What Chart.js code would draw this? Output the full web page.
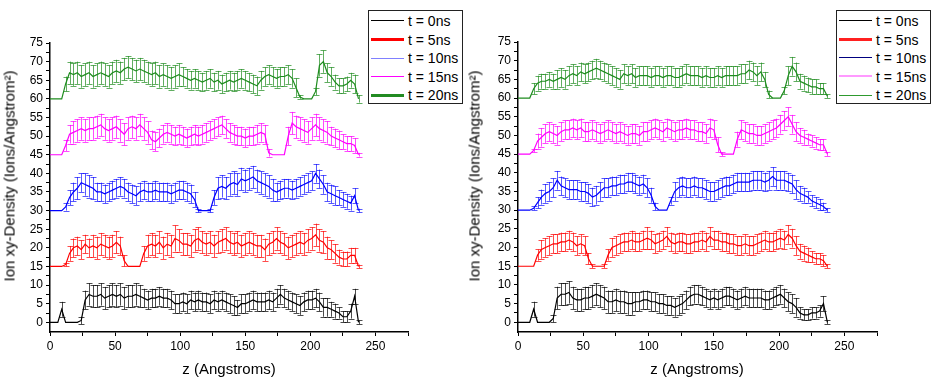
<!DOCTYPE html>
<html><head><meta charset="utf-8">
<script src="https://cdn.jsdelivr.net/npm/chart.js@4.4.1/dist/chart.umd.min.js"></script>
<style>
html,body{margin:0;padding:0;background:#fff;}
#wrap{position:relative;width:934px;height:382px;overflow:hidden;font-family:"Liberation Sans",Arial,sans-serif;color:#000;}
canvas{position:absolute;top:0;}
.ytitle{position:absolute;white-space:nowrap;font-size:15px;font-weight:normal;transform:translate(-50%,-50%) rotate(-90deg);}
.xtitle{position:absolute;white-space:nowrap;font-size:15px;transform:translate(-50%,-50%);}
.legend{position:absolute;top:10px;width:95px;height:94px;border:1px solid #222;box-sizing:border-box;background:#fff;}
.row{position:absolute;left:0;width:100%;height:18px;font-size:14px;line-height:18px;white-space:nowrap;}
.sw{position:absolute;left:2px;width:33px;top:50%;}
.lt{position:absolute;left:39px;top:0;}
</style></head>
<body><div id="wrap">
<canvas id="c1" width="466" height="382" style="left:0"></canvas>
<canvas id="c2" width="468" height="382" style="left:466px"></canvas>
<div class="ytitle" style="left:9px;top:176px">Ion xy-Density (Ions/Angstrom²)</div>
<div class="ytitle" style="left:474px;top:176px">Ion xy-Density (Ions/Angstrom²)</div>
<div class="xtitle" style="left:229px;top:368px">z (Angstroms)</div>
<div class="xtitle" style="left:697px;top:368px">z (Angstroms)</div>
<div class="legend" id="lg1" style="left:368px"></div>
<div class="legend" id="lg2" style="left:836px"></div>
</div>
<script>
const zValues = [0,3,6,9,12,15,18,21,24,27,30,33,36,39,42,45,48,51,54,57,60,63,66,69,72,75,78,81,84,87,90,93,96,99,102,105,108,111,114,117,120,123,126,129,132,135,138,141,144,147,150,153,156,159,162,165,168,171,174,177,180,183,186,189,192,195,198,201,204,207,210,213,216,219,222,225,228,231,234,237];

const seriesLabels = ['t = 0ns','t = 5ns','t = 10ns','t = 15ns','t = 20ns'];

const xTicks = [0,25,50,75,100,125,150,175,200,225,250,275];
const xTickLabels = [0,50,100,150,200,250];
const yTicks = [0,2.5,5,7.5,10,12.5,15,17.5,20,22.5,25,27.5,30,32.5,35,37.5,40,42.5,45,47.5,50,52.5,55,57.5,60,62.5,65,67.5,70,72.5,75];
const yTickLabels = [0,5,10,15,20,25,30,35,40,45,50,55,60,65,70,75];

// ---- left panel ----
const left_t0 = [0,0,0,3.5,0,0,0,0,0.5,6, 7.5,7,7,7.5,6.5,7,7.5,7,7.5,6.5, 7,7,7.5,7,6.5,6,6.5,6.5,7,6.5, 6.5,6,5,5,5.5,5,6,5.5,6,5.5, 5.5,5,6,5.5,6,5.5,5,4.5,4,5, 5,5.5,6,5.5,5.5,5.5,6,5.5,6.5,7.5, 6.5,6,5.5,5,4.5,5.5,6,6,6.5,5.5, 4,4,3.5,3,2.5,1.5,1.5,3,7,0];
const left_t5 = [15,15,15,15,15.5,18.5,20,20.5,19.5,21, 20,20.5,20,21,20.5,20,20.5,21.5,20.5,16.5, 15,15,15,15,18.5,20.5,21,20.5,21.5,20, 21,20.5,22.5,22,21,21,20.5,22,22.5,21.5, 21,21.5,20.5,21.5,22,22.5,21.5,21,21.5,20.5, 21,21.5,21,20.5,20.5,19.5,21,21.5,22.5,21.5, 21,20,20.5,21,21.5,21,22,22.5,23.5,22, 21.5,20,19.5,18.5,17.5,17,17,18,18,15];
const left_t10 = [30,30,30,30,31,33.5,35,36,37.5,37, 36.5,36,35,35,34.5,35,35.5,36,36.5,36, 35,34.5,34,35,35.5,35,35,35.5,35,35, 35,34.5,35,35.5,35.5,35,34.5,33,30,30, 30,30,33.5,36,36.5,36,37,37.5,37,38.5, 38,38.5,39,38,37.5,37,36.5,35.5,35,35.5, 36,36,35.5,36,36.5,37,37.5,38,40,38.5, 37,35,34.5,34,33.5,33,32.5,32,34,30];
const left_t15 = [45,45,45,45,47.5,50.5,51,51.5,52,51.5, 52,52,52.5,53,52,51.5,52,52.5,51.5,50.5, 52,52.5,52,53,52,51,49,48.5,49.5,50.5, 51,50.5,50,50.5,50,49.5,50,50.5,50,50.5, 51,51.5,52,52.5,53,52,51,50.5,50,50, 49.5,50,50,50.5,51,50.5,45.5,45,45,45, 45,50,53.5,52.5,52,51.5,51,52,53,52, 51.5,51,50,49.5,49,48.5,48,48,47.5,45];
const left_t20 = [60,60,60,60,64,67,66.5,67,66,66.5, 67,66,66.5,67,66.5,66,67,67.5,67,68, 68.5,68,67.5,68,67.5,67,66.5,67,66,66.5, 66,65.5,66,66.5,66,65.5,65,65.5,65,64.5, 65,65.5,64.5,65,64,64.5,65,64.5,65,65.5, 65,64.5,64,63.5,65,66,66.5,66,65.5,66, 66,66.5,65.5,63,60.5,60,60,60,62,69, 70,67,66,64.5,63.5,63.5,64,65,64,60];

const left_e0 = [0,0,0,2,0,0,0,0,1,2.5, 3,3,3,3,3,3,3,3,3,3, 3,3,3,3,2.5,2.5,2.5,2.5,2.5,2.5, 2.5,2.5,2.5,2.5,2.5,2.5,2.5,2.5,2.5,2.5, 2.5,2.5,2.5,2.5,2.5,2.5,2.5,2.5,2,2.5, 2.5,2.5,2.5,2.5,2.5,2.5,2.5,2.5,2.5,2.5, 2.5,2.5,2.5,2.5,2.5,2.5,2.5,2.5,2.5,2.5, 2.5,2.5,2,2,1.5,1.5,1.5,2,2,0.5];
const left_e5 = [0,0,0,0,0.5,2,2.5,2.5,2.5,2.5, 2.5,3,3,3,3,3,3,3,2.5,1.5, 0,0,0,0,2,3,3,3,3,3, 3,3,3.5,3,3,3,3,3,3,3, 3,3,3,3,3,3,3,3,3,3, 3,3,3,3,3,3,3,3,3,3, 3,3,3,3,3,3,3,3,3,3, 3,3,2.5,2.5,2,2,2,2,2,0.5];
const left_e10 = [0,0,0,0,1,2,2.5,3,2.5,3, 3,3,2.5,2.5,2.5,2.5,2.5,2.5,2.5,2.5, 2.5,2.5,2.5,2.5,2.5,2.5,2.5,2.5,2.5,2.5, 2.5,2.5,2.5,2.5,2.5,2.5,2.5,2,0.5,0, 0,0.5,2,3,3,3,3,3,3,3, 3,3,3,3,3,3,3,3,2.5,2.5, 2.5,2.5,2.5,2.5,2.5,2.5,2.5,2.5,2.5,2.5, 2.5,2.5,2.5,2.5,2,2,2,2,2,0.5];
const left_e15 = [0,0,0,0,1.5,2.5,3,3,3,3, 3,3,3,3,3,3,3,3,3,3, 3,3,3,3,3,3,2.5,2.5,2.5,2.5, 2.5,2.5,2.5,2.5,2.5,2.5,2.5,2.5,2.5,2.5, 2.5,2.5,2.5,2.5,2.5,2.5,2.5,2.5,2.5,2.5, 2.5,2.5,2.5,2.5,2.5,2.5,1,0,0,0, 0,2.5,3,3,3,3,3,3,3,3, 3,3,2.5,2.5,2.5,2,2,2,2,0.5];
const left_e20 = [0,0,0,0,2,3,3,3,3,3, 3,3,3,3,3,3,3,3,3,3, 3,3,3,3,3,3,3,3,3,3, 3,3,3,3,2.5,2.5,2.5,2.5,2.5,2.5, 2.5,2.5,2.5,2.5,2.5,2.5,2.5,2.5,2.5,2.5, 2.5,2.5,2.5,2.5,2.5,2.5,2.5,2.5,2.5,2.5, 2.5,2.5,2.5,2.5,0.5,0,0,0,1,3, 3,2.5,2.5,2,2,2,2,2,2.5,1];

// ---- right panel ----
const right_t0 = [0,0,0,0,3.5,0,0,0,0,1, 6.5,7.5,7.5,8,6.5,6,6,6.5,6.5,7, 7.5,7,6.5,5.5,5.5,6,5.5,5.5,5,5, 5.5,5.5,6,6,5.5,5.5,5,5,4.5,4.5, 4,4.5,5,6,7,7.5,7.5,7,6.5,6, 6.5,6,6.5,7,7,6.5,6,6.5,7,6.5, 6.5,6.5,6.5,6,6,6.5,7,7.5,6.5,5.5, 5,4,2.5,2,2,2.5,2.5,3,5,0];
const right_t5 = [15,15,15,15,15,18,19.5,20,20.5,21, 21,21.5,21.5,22,21.5,20.5,21,20.5,17,15, 15,15,15,18,20,20.5,21,21.5,21.5,22, 21.5,21.5,22,22.5,22,21,21.5,22,23,21.5, 21,21.5,21.5,21,21,21.5,21.5,22,21.5,23, 22,22,21.5,21.5,21,21,20.5,20.5,21,20.5, 20.5,21,21.5,22,21.5,21.5,22,22.5,22,23.5, 22.5,20.5,19,18.5,18,17.5,17,17,16.5,15];
const right_t10 = [30,30,30,30,30.5,32,33.5,34.5,35,36, 38,36.5,36,35.5,35.5,35.5,35,35,34.5,33.5, 34,35,36,36,36.5,36.5,37,37,37.5,37.5, 37,36.5,37,36,34,31,30,30,30,32.5, 35,36,36.5,36,36,36.5,36,36,35.5,35, 35,35.5,36,36.5,36.5,37,37.5,37.5,37.5,37.5, 38,38,38,37.5,38,39,38,38,38,37.5, 37,35.5,34.5,34,33.5,32.5,32,31.5,31,30];
const right_t15 = [45,45,45,45,46,48.5,49.5,50.5,51,50.5, 50,51,51.5,51.5,52,51.5,52,51,51,51.5, 51,50.5,51,51.5,51,50.5,51,50.5,50,50.5, 50.5,50,51,51,51.5,52,51.5,51,52,51.5, 51,51.5,51.5,52,51.5,51.5,51,51,50.5,52, 51.5,47.5,45,45,45,45,49,51.5,51,50.5, 50.5,50,50,50.5,51,51.5,52,53,54,55, 53,51,50,49.5,49,48.5,48,47.5,47.5,45];
const right_t20 = [60,60,60,60,62.5,64,64.5,64.5,65,64.5, 65,65.5,65,66,66.5,66,67,66.5,67,67.5, 68,67.5,67,66.5,66,65.5,65,66.5,66,66.5, 65.5,66,66,66,65.5,66,66,65.5,66,66, 65.5,65.5,66,66.5,66,66,66,65.5,66,65.5, 65.5,66,65.5,66,66,66,66,66.5,66.5,67.5, 67,66,67,65,61,60,60,60,62,66, 68.5,67,64.5,64,63.5,63,63,62.5,62.5,60.5];

const right_e0 = [0,0,0,0,2,0,0,0,0,1, 3,3,3,3,3,3,3,3,3,3, 3,3,3,3,3,3,3,3,3,3, 2.5,2.5,2.5,2.5,2.5,2.5,2.5,2.5,2.5,2.5, 2.5,2.5,2.5,2.5,2.5,2.5,2.5,2.5,2.5,2.5, 2.5,2.5,2.5,2.5,2.5,2.5,2.5,2.5,2.5,2.5, 2.5,2.5,2.5,2.5,2.5,2.5,2.5,2.5,2.5,2.5, 2.5,2.5,1.5,1.5,1.5,1.5,1.5,1.5,2,0.5];
const right_e5 = [0,0,0,0,0,1.5,2.5,2.5,2.5,2.5, 2.5,2.5,2.5,2.5,2.5,2.5,2.5,2.5,1.5,0.5, 0,0,0.5,1.5,2.5,2.5,2.5,2.5,2.5,2.5, 2.5,2.5,2.5,3,2.5,2.5,2.5,2.5,2.5,2.5, 2.5,2.5,2.5,2.5,2.5,2.5,2.5,2.5,2.5,2.5, 2.5,2.5,2.5,2.5,2.5,2.5,2.5,2.5,2.5,2.5, 2.5,2.5,2.5,2.5,2.5,2.5,2.5,2.5,2.5,2.5, 2.5,2.5,2,2,2,1.5,1.5,1.5,1.5,0.5];
const right_e10 = [0,0,0,0,0.5,1.5,2,2.5,2.5,2.5, 2.5,2.5,2.5,2.5,2.5,2.5,2.5,2.5,2.5,2.5, 2.5,2.5,2.5,2.5,2.5,2.5,2.5,2.5,2.5,2.5, 2.5,2.5,2.5,2.5,2,1,0,0,0,1, 2.5,2.5,2.5,2.5,2.5,2.5,2.5,2.5,2.5,2.5, 2.5,2.5,2.5,2.5,2.5,2.5,2.5,2.5,2.5,2.5, 2.5,2.5,2.5,2.5,2.5,2.5,2.5,2.5,2.5,2.5, 2.5,2.5,2,2,1.5,1.5,1.5,1.5,1,0.5];
const right_e15 = [0,0,0,0,0.5,2,2.5,2.5,2.5,2.5, 2.5,2.5,2.5,2.5,2.5,2.5,2.5,2.5,2.5,2.5, 2.5,2.5,2.5,2.5,2.5,2.5,2.5,2.5,2.5,2.5, 2.5,2.5,2.5,2.5,2.5,2.5,2.5,2.5,2.5,2.5, 2.5,2.5,2.5,2.5,2.5,2.5,2.5,2.5,2.5,2.5, 2.5,2,0.5,0,0,0,2,2.5,2.5,2.5, 2.5,2.5,2.5,2.5,2.5,2.5,2.5,2.5,2.5,2.5, 2.5,2.5,2,2,1.5,1.5,1.5,1.5,1.5,0.5];
const right_e20 = [0,0,0,0,1.5,2,2,2,2,2, 2.5,2.5,2.5,2.5,2.5,2.5,2.5,2.5,2.5,2.5, 2.5,2.5,2.5,2.5,2.5,2.5,2.5,2.5,2.5,2.5, 2.5,2.5,2.5,2.5,2.5,2.5,2.5,2.5,2.5,2.5, 2.5,2.5,2.5,2.5,2.5,2.5,2.5,2.5,2.5,2.5, 2.5,2.5,2.5,2.5,2.5,2.5,2.5,2.5,2.5,2.5, 2.5,2.5,2.5,2,1,0,0,0,1,2.5, 2.5,2.5,2,2,2,2,2,1.5,1.5,0.5];

const lineColors = ['#000000','#ff0000','#0000ff','#ff00ff','#1e8c1e'];
const errColors = ['rgba(0,0,0,0.7)','rgba(255,0,0,0.7)','rgba(0,0,255,0.65)','rgba(255,0,255,0.7)','rgba(30,140,30,0.7)'];

// legend sample styles (colour, width) for each panel
const legendLeft = [['#000000',1.5],['#ff0000',3],['#8080ff',1],['#ff00ff',1.5],['#228b22',3]];
const legendRight = [['#000000',1.5],['#ff2020',3],['#000080',1.5],['#ff99ff',2.5],['#2e9a2e',1]];

Chart.defaults.font.family = '"Liberation Sans", Arial, sans-serif';
Chart.defaults.font.size = 12;
Chart.defaults.color = '#000';

const errorBarPlugin = {
  id: 'errorBars',
  beforeDatasetsDraw(chart) {
    const ctx = chart.ctx, xs = chart.scales.x, ys = chart.scales.y;
    ctx.save();
    ctx.lineWidth = 1;
    chart.data.datasets.forEach((ds) => {
      const errs = ds.errors;
      ctx.strokeStyle = ds.errorColor;
      ctx.beginPath();
      ds.data.forEach((p, j) => {
        const e = errs[j];
        if (!e) return;
        const x = Math.round(xs.getPixelForValue(p.x)) + 0.5;
        const y1 = ys.getPixelForValue(p.y - e), y2 = ys.getPixelForValue(p.y + e);
        ctx.moveTo(x, y1); ctx.lineTo(x, y2);
        ctx.moveTo(x - 3, Math.round(y1) + 0.5); ctx.lineTo(x + 3, Math.round(y1) + 0.5);
        ctx.moveTo(x - 3, Math.round(y2) + 0.5); ctx.lineTo(x + 3, Math.round(y2) + 0.5);
      });
      ctx.stroke();
    });
    ctx.restore();
  }
};

function makeChart(id, vals, errs, yWidth, pad) {
  const datasets = vals.map((v, i) => ({
    label: seriesLabels[i],
    data: zValues.map((z, j) => ({x: z, y: v[j]})),
    errors: errs[i],
    errorColor: errColors[i],
    borderColor: lineColors[i],
    borderWidth: 1.2,
    pointRadius: 0,
    tension: 0,
    fill: false
  }));
  return new Chart(document.getElementById(id), {
    type: 'line',
    data: {datasets},
    plugins: [errorBarPlugin],
    options: {
      responsive: false,
      animation: false,
      layout: {padding: pad},
      plugins: {legend: {display: false}, tooltip: {enabled: false}},
      scales: {
        x: {
          type: 'linear', min: 0, max: 275,
          afterBuildTicks: (s) => { s.ticks = xTicks.map(v => ({value: v})); },
          afterFit: (s) => { s.height = 50; },
          ticks: {autoSkip: false, maxRotation: 0, padding: 3, font: {size: 12},
            callback: (v) => xTickLabels.includes(v) ? String(v) : ''},
          grid: {display: true, drawOnChartArea: false, drawTicks: true, tickLength: 4, tickColor: '#000', tickWidth: 1},
          border: {display: true, color: '#000', width: 1.5}
        },
        y: {
          type: 'linear', min: -2.6, max: 75,
          afterBuildTicks: (s) => { s.ticks = yTicks.map(v => ({value: v})); },
          afterFit: (s) => { s.width = yWidth; },
          ticks: {autoSkip: false, padding: 3, font: {size: 12},
            callback: (v) => yTickLabels.includes(v) ? String(v) : ''},
          grid: {display: true, drawOnChartArea: false, drawTicks: true, tickLength: 4, tickColor: '#000', tickWidth: 1},
          border: {display: true, color: '#000', width: 1.5}
        }
      }
    }
  });
}

makeChart('c1', [left_t0,left_t5,left_t10,left_t15,left_t20], [left_e0,left_e5,left_e10,left_e15,left_e20], 50, {left:0, right:58, top:43, bottom:0});
makeChart('c2', [right_t0,right_t5,right_t10,right_t15,right_t20], [right_e0,right_e5,right_e10,right_e15,right_e20], 52, {left:0, right:57, top:42, bottom:0});

function buildLegend(id, styles) {
  const box = document.getElementById(id);
  seriesLabels.forEach((lab, i) => {
    const row = document.createElement('div');
    row.className = 'row';
    row.style.top = (1 + i * 18.5) + 'px';
    const sw = document.createElement('div');
    sw.className = 'sw';
    sw.style.borderTop = styles[i][1] + 'px solid ' + styles[i][0];
    sw.style.marginTop = (-styles[i][1] / 2) + 'px';
    const t = document.createElement('span');
    t.className = 'lt';
    t.textContent = lab;
    row.appendChild(sw); row.appendChild(t);
    box.appendChild(row);
  });
}
buildLegend('lg1', legendLeft);
buildLegend('lg2', legendRight);
</script>
</body></html>
